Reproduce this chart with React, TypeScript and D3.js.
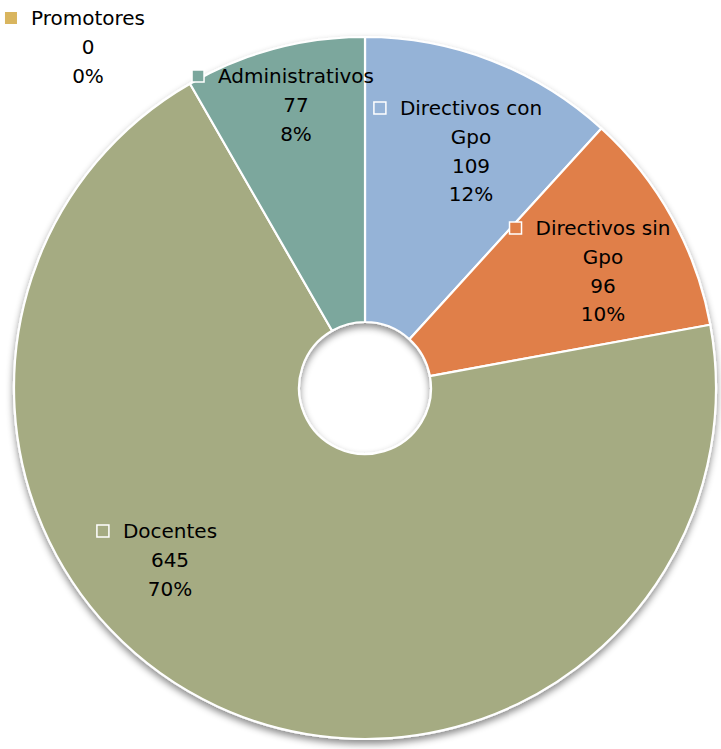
import React from "react";
import * as d3 from "d3";

const categories = ["Directivos con Gpo", "Directivos sin Gpo", "Docentes", "Administrativos", "Promotores"];
const values = [109, 96, 645, 77, 0];
const percentLabels = ["12%", "10%", "70%", "8%", "0%"];
const nameLines = [["Directivos con", "Gpo"], ["Directivos sin", "Gpo"], ["Docentes"], ["Administrativos"], ["Promotores"]];
const colors = ["#95B3D7", "#E07F48", "#A5AB82", "#7BA79D", "#D9B55E"];
// label anchors (center x of text, first baseline)
const labelAnchors: [number, number][] = [[471, 115], [603, 235], [170, 538], [296, 83], [88, 25]];

const W = 721, H = 749;
const CX = 365, CY = 388, R = 351, R0 = 66;
const FONT = "'DejaVu Sans', sans-serif";
const FS = 20;
const LH = 28.8;

export default function App() {
  const pie = d3.pie<number>().sort(null).value((d) => d).startAngle(0).endAngle(2 * Math.PI);
  const arcs = pie(values);
  const arc = d3.arc<d3.PieArcDatum<number>>().innerRadius(R0).outerRadius(R);

  return (
    <svg width={W} height={H} style={{ position: "absolute", left: 0, top: 0, background: "#fff" }}>
      <defs>
        <filter id="sh" x="-20%" y="-20%" width="140%" height="140%">
          <feDropShadow dx="0" dy="4" stdDeviation="3.5" floodColor="#000" floodOpacity="0.45" />
        </filter>
      </defs>
      <g transform={`translate(${CX},${CY})`} filter="url(#sh)">
        {arcs.map((a, i) =>
          a.value > 0 ? (
            <path key={i} d={arc(a) || ""} fill={colors[i]} stroke="#fff" strokeWidth={2.2} strokeLinejoin="round" />
          ) : null
        )}
      </g>
      {categories.map((c, i) => {
        const [lx, ly] = labelAnchors[i];
        const lines = [...nameLines[i], String(values[i]), percentLabels[i]];
        return (
          <g key={c} fontFamily={FONT} fontSize={FS} fill="#000">
            {lines.map((t, j) => (
              <text key={j} x={lx} y={ly + j * LH} textAnchor="middle">{t}</text>
            ))}
            <KeyBox idx={i} lx={lx} ly={ly} text={lines[0]} />
          </g>
        );
      })}
    </svg>
  );
}

function KeyBox({ idx, lx, ly, text }: { idx: number; lx: number; ly: number; text: string }) {
  const ref = React.useRef<SVGRectElement>(null);
  const [x, setX] = React.useState<number | null>(null);
  React.useLayoutEffect(() => {
    const svg = ref.current?.ownerSVGElement;
    if (!svg) return;
    const t = document.createElementNS("http://www.w3.org/2000/svg", "text");
    t.setAttribute("font-family", FONT);
    t.setAttribute("font-size", String(FS));
    t.textContent = text;
    svg.appendChild(t);
    const w = t.getComputedTextLength();
    svg.removeChild(t);
    setX(lx - w / 2 - 14 - 12);
  }, [lx, text]);
  const promo = values[idx] === 0;
  return (
    <rect ref={ref} x={x ?? lx} y={ly - 13} width={12} height={12}
      fill={colors[idx]} stroke={promo ? "none" : "#fff"} strokeWidth={1.5}
      visibility={x === null ? "hidden" : "visible"} />
  );
}
